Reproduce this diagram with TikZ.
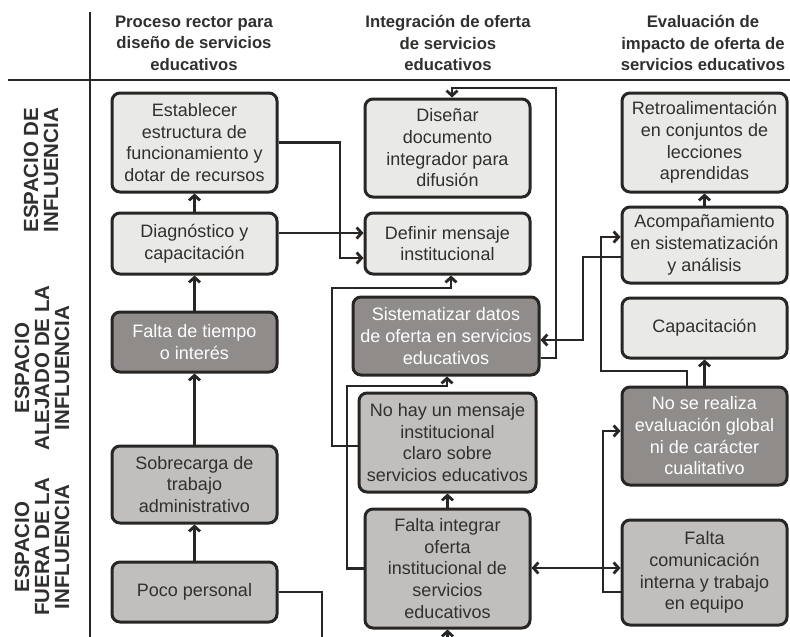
\documentclass[tikz,border=0pt]{standalone}
\usepackage{fontspec}
\setmainfont{Liberation Sans}
\usetikzlibrary{arrows.meta}
\definecolor{lightbox}{RGB}{233,233,232}
\definecolor{midbox}{RGB}{192,191,190}
\definecolor{darkbox}{RGB}{143,140,138}
\definecolor{edgec}{RGB}{40,38,36}
\definecolor{textc}{RGB}{50,48,47}
\begin{document}
\begin{tikzpicture}[x=1pt,y=-1pt,
  box/.style={draw=edgec, line width=3pt, rounded corners=8pt, inner sep=0pt, align=center, text=textc, font=\fontsize{18}{21.7}\selectfont},
  lbox/.style={box, fill=lightbox},
  mbox/.style={box, fill=midbox},
  dbox/.style={box, fill=darkbox, text=white},
  conn/.style={line width=2.8pt, draw=edgec},
  arr/.style={conn, -{Straight Barb[length=5pt,width=11pt]}},
  darr/.style={conn, {Straight Barb[length=5pt,width=11pt]}-{Straight Barb[length=5pt,width=11pt]}},
  hdr/.style={font=\bfseries\fontsize{16.7}{21.5}\selectfont, align=center, text=textc},
  rowlab/.style={font=\bfseries\fontsize{20.5}{20}\selectfont, align=center, rotate=90, text=textc},
  sep/.style={line width=1.4pt, draw=edgec}]
\useasboundingbox[fill=white] (0,0) rectangle (790,637);

% separators
\coordinate (vtop) at (90,12);
\coordinate (vbot) at (90,637);
\coordinate (hl) at (8,80);
\coordinate (hr) at (790,80);
\draw[sep] (vtop) -- (vbot);
\draw[sep] (hl) -- (hr);

% headers
\node[hdr] (h1) at (194,43) {Proceso rector para\\diseño de servicios\\educativos};
\node[hdr] (h2) at (448,43) {Integración de oferta\\de servicios\\educativos};
\node[hdr] (h3) at (703,43) {Evaluación de\\impacto de oferta de\\servicios educativos};

% row labels
\node[rowlab] (r1) at (41,170) {ESPACIO DE\\INFLUENCIA};
\node[rowlab] (r2) at (42,368) {ESPACIO\\ALEJADO DE LA\\INFLUENCIA};
\node[rowlab] (r3) at (42,547) {ESPACIO\\FUERA DE LA\\INFLUENCIA};

% column 1
\node[lbox, minimum width=165pt, minimum height=99pt] (est) at (194.5,142.5) {Establecer\\estructura de\\funcionamiento y\\dotar de recursos};
\node[lbox, minimum width=165pt, minimum height=61pt] (diag) at (194.5,243.5) {Diagnóstico y\\capacitación};
\node[dbox, minimum width=165pt, minimum height=60pt] (tiempo) at (194.5,342) {Falta de tiempo\\o interés};
\node[mbox, minimum width=165pt, minimum height=77pt] (sobre) at (194.5,484.5) {Sobrecarga de\\trabajo\\administrativo};
\node[mbox, minimum width=165pt, minimum height=60pt] (poco) at (194.5,592) {Poco personal};

% column 2
\node[lbox, minimum width=165pt, minimum height=98pt] (disen) at (447.5,148) {Diseñar\\documento\\integrador para\\difusión};
\node[lbox, minimum width=165pt, minimum height=61pt] (defin) at (447.5,243.5) {Definir mensaje\\institucional};
\node[dbox, minimum width=186pt, minimum height=78pt] (sist) at (446,336) {Sistematizar datos\\de oferta en servicios\\educativos};
\node[mbox, minimum width=177pt, minimum height=99pt] (nohay) at (447.5,442.5) {No hay un mensaje\\institucional\\claro sobre\\servicios educativos};
\node[mbox, minimum width=165pt, minimum height=119pt] (falint) at (447.5,568.5) {Falta integrar\\oferta\\institucional de\\servicios\\educativos};

% column 3
\node[lbox, minimum width=165pt, minimum height=99pt] (retro) at (704.5,142.5) {Retroalimentación\\en conjuntos de\\lecciones\\aprendidas};
\node[lbox, minimum width=165pt, minimum height=76pt] (acomp) at (704.5,245) {Acompañamiento\\en sistematización\\y análisis};
\node[lbox, minimum width=165pt, minimum height=60pt] (capac) at (704.5,328) {Capacitación};
\node[dbox, minimum width=165pt, minimum height=98pt] (nose) at (704.5,436) {No se realiza\\evaluación global\\ni de carácter\\cualitativo};
\node[mbox, minimum width=165pt, minimum height=105pt] (falcom) at (704.5,572.5) {Falta\\comunicación\\interna y trabajo\\en equipo};

% column 1 connectors
\draw[arr] (diag.north) -- (est.south);
\draw[arr] (tiempo.north) -- (diag.south);
\draw[arr] (sobre.north) -- (tiempo.south);
\draw[arr] (poco.north) -- (sobre.south);
\coordinate (pocoend) at (322,637);
\draw[conn] (poco.east) -- (322,592) -- (pocoend);

% to Definir
\draw[arr] (est.east) -- (340,142.5) -- (340,258) -- (defin.west |- 0,258);
\draw[arr] (diag.east |- 0,233) -- (defin.west |- 0,233);

% middle loops
\draw[arr] (sist.east |- 0,358) -- (556,358) -- (556,88) -- (452,88) -- (disen.north -| 452,0);
\draw[arr] (nohay.west |- 0,446) -- (332,446) -- (332,288) -- (451,288) -- (defin.south -| 451,0);
\draw[arr] (falint.west) -- (347,568.5) -- (347,386) -- (447,386) -- (sist.south -| 447,0);
\draw[arr] (falint.north) -- (nohay.south);
\coordinate (falintin) at (447.5,637);
\draw[arr] (falintin) -- (falint.south);

% right side
\draw[arr] (acomp.north) -- (retro.south);
\draw[arr] (nose.north) -- (capac.south);
\draw[arr] (nose.north -| 687,0) -- (687,371) -- (601,371) -- (601,237) -- (acomp.west |- 0,237);
\draw[arr] (acomp.west |- 0,257) -- (583,257) -- (583,340) -- (sist.east |- 0,340);
\draw[darr] (falint.east |- 0,568) -- (falcom.west |- 0,568);
\draw[arr] (falcom.west |- 0,592) -- (603,592) -- (603,431) -- (nose.west |- 0,431);
\end{tikzpicture}
\end{document}
